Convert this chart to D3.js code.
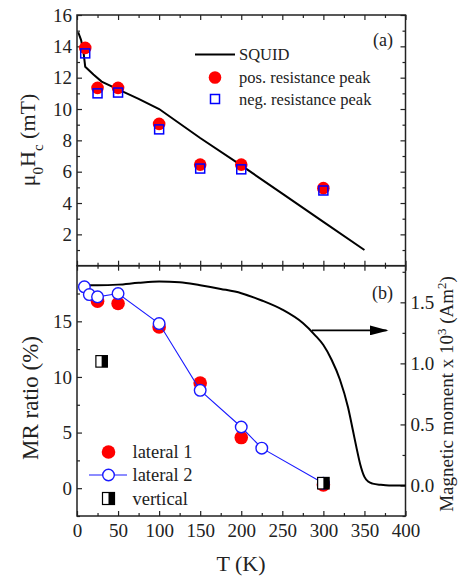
<!DOCTYPE html>
<html>
<head>
<meta charset="utf-8">
<script src="https://cdn.jsdelivr.net/npm/d3@7"></script>
<style>
  body { margin: 0; background: #fff; }
</style>
</head>
<body>
<svg id="chart" width="463" height="576"></svg>
<script>
// panel (a): critical field
const squidT = [1.5, 5, 8, 10, 20, 30, 50, 75, 100, 150, 200, 250, 300, 350];
const squidH = [14.9, 14.4, 13.6, 12.7, 12.2, 11.75, 11.25, 10.65, 10.0, 8.15, 6.4, 4.6, 2.8, 1.0];
const peakT = [10, 25, 50, 100, 150, 200, 300];
const posPeak = [13.9, 11.35, 11.35, 9.05, 6.45, 6.45, 4.95];
const negPeak = [13.55, 11.0, 11.05, 8.7, 6.2, 6.15, 4.8];

// panel (b): MR ratio and magnetic moment
const lat1T = [25, 50, 100, 150, 200, 300];
const lat1MR = [16.8, 16.6, 14.5, 9.45, 4.55, 0.3];
const lat2T = [9, 15, 25, 50, 100, 150, 200, 225, 300];
const lat2MR = [18.1, 17.4, 17.2, 17.5, 14.8, 8.8, 5.5, 3.6, 0.45];
const vertT = [30, 300];
const vertMR = [11.4, 0.45];
const momentT = [2, 10, 25, 50, 75, 100, 125, 150, 175, 200, 225, 250, 275, 290, 300, 310, 320, 330, 336, 340, 345, 350, 355, 360, 370, 380, 400];
const moment = [1.64, 1.64, 1.64, 1.645, 1.66, 1.67, 1.665, 1.64, 1.61, 1.575, 1.515, 1.44, 1.33, 1.23, 1.15, 1.03, 0.87, 0.64, 0.45, 0.32, 0.17, 0.07, 0.03, 0.015, 0.005, 0, 0];
const arrowT = [286, 377];
const arrowM = 1.27;

// ticks
const xTicks = [0, 50, 100, 150, 200, 250, 300, 350, 400];
const xMinor = [25, 75, 125, 175, 225, 275, 325, 375];
const hTicks = [2, 4, 6, 8, 10, 12, 14, 16];
const hMinor = [1, 3, 5, 7, 9, 11, 13, 15];
const mrTicks = [0, 5, 10, 15];
const mrMinor = [-2.5, 2.5, 7.5, 12.5, 17.5];
const momTicks = [0, 0.5, 1.0, 1.5];
const momMinor = [-0.25, 0.25, 0.75, 1.25, 1.75];

const FONT = '"Liberation Serif", "Times New Roman", serif';
const INK = '#222';

const svg = d3.select('#chart');
const L = 77, R = 405.5, topA = 15, mid = 265.7, botB = 516;

const x = d3.scaleLinear().domain([0, 400]).range([L, R]);
const yA = d3.scaleLinear().domain([0, 16]).range([mid, topA]);
const yB = d3.scaleLinear().domain([-2.5, 20]).range([botB, mid]);
const yM = d3.scaleLinear().domain([-0.25, 1.8]).range([botB, mid]);

// axes helper: major + minor, ticks pointing inward
function addAxis(gen, scale, major, minor, tx, ty, fmt, showLabels) {
  const g = svg.append('g').attr('transform', `translate(${tx},${ty})`);
  g.call(gen(scale).tickValues(major).tickSizeInner(-5).tickSizeOuter(0)
    .tickPadding(gen === d3.axisBottom ? 8 : 5)
    .tickFormat(showLabels ? fmt : ''));
  const m = svg.append('g').attr('transform', `translate(${tx},${ty})`);
  m.call(gen(scale).tickValues(minor).tickSizeInner(-3).tickSizeOuter(0).tickFormat(''));
  [g, m].forEach(s => {
    s.attr('font-family', null).attr('font-size', null);
    s.select('.domain').remove();
    s.selectAll('line').attr('stroke', INK).attr('stroke-width', 1.2);
    s.selectAll('text').style('font-size', '19px');
  });
}

const fmtInt = d3.format('d');
const fmt1 = d3.format('.1f');

// panel (a) axes
addAxis(d3.axisBottom, x, xTicks, xMinor, 0, mid, fmtInt, false);
addAxis(d3.axisTop, x, xTicks, xMinor, 0, topA, fmtInt, false);
addAxis(d3.axisLeft, yA, hTicks, hMinor, L, 0, fmtInt, true);
addAxis(d3.axisRight, yA, hTicks, hMinor, R, 0, fmtInt, false);
// panel (b) axes
addAxis(d3.axisBottom, x, xTicks, xMinor, 0, botB, fmtInt, true);
addAxis(d3.axisTop, x, xTicks, xMinor, 0, mid, fmtInt, false);
addAxis(d3.axisLeft, yB, mrTicks, mrMinor, L, 0, fmtInt, true);
addAxis(d3.axisRight, yM, momTicks, momMinor, R, 0, fmt1, true);

// frames
[[topA, mid], [mid, botB]].forEach(([t, b]) => {
  svg.append('rect').attr('x', L).attr('y', t).attr('width', R - L).attr('height', b - t)
    .attr('fill', 'none').attr('stroke', INK).attr('stroke-width', 1.5);
});

// ---- panel (a) marks ----
const lineA = d3.line().x(d => x(d[0])).y(d => yA(d[1]));
svg.append('path').datum(d3.zip(squidT, squidH)).attr('d', lineA)
  .attr('fill', 'none').attr('stroke', '#000').attr('stroke-width', 2);

svg.append('g').selectAll('circle').data(d3.zip(peakT, posPeak)).join('circle')
  .attr('cx', d => x(d[0])).attr('cy', d => yA(d[1])).attr('r', 6.3).attr('fill', '#ff0000');
svg.append('g').selectAll('rect').data(d3.zip(peakT, negPeak)).join('rect')
  .attr('x', d => x(d[0]) - 4.5).attr('y', d => yA(d[1]) - 4.5)
  .attr('width', 9).attr('height', 9)
  .attr('fill', 'none').attr('stroke', '#0000ff').attr('stroke-width', 1.5);

// legend (a)
svg.append('line').attr('x1', 195).attr('x2', 235).attr('y1', 54.5).attr('y2', 54.5)
  .attr('stroke', '#000').attr('stroke-width', 2);
svg.append('circle').attr('cx', 215).attr('cy', 77.5).attr('r', 6.3).attr('fill', '#ff0000');
svg.append('rect').attr('x', 210.5).attr('y', 94.5).attr('width', 9).attr('height', 9)
  .attr('fill', 'none').attr('stroke', '#0000ff').attr('stroke-width', 1.5);
[['SQUID', 54.5], ['pos. resistance peak', 77.5], ['neg. resistance peak', 99]].forEach(([t, y]) => {
  svg.append('text').attr('x', 239).attr('y', y).attr('dy', '0.35em')
    .style('font-size', '16.5px').text(t);
});
svg.append('text').attr('x', 393).attr('y', 40).attr('dy', '0.35em').attr('text-anchor', 'end')
  .style('font-size', '18px').text('(a)');

// ---- panel (b) marks ----
const lineM = d3.line().x(d => x(d[0])).y(d => yM(d[1])).curve(d3.curveMonotoneX);
svg.append('path').datum(d3.zip(momentT, moment)).attr('d', lineM)
  .attr('fill', 'none').attr('stroke', '#000').attr('stroke-width', 2);

svg.append('g').selectAll('circle').data(d3.zip(lat1T, lat1MR)).join('circle')
  .attr('cx', d => x(d[0])).attr('cy', d => yB(d[1])).attr('r', 6.8).attr('fill', '#ff0000');

const lineB = d3.line().x(d => x(d[0])).y(d => yB(d[1]));
svg.append('path').datum(d3.zip(lat2T, lat2MR)).attr('d', lineB)
  .attr('fill', 'none').attr('stroke', '#1a1aff').attr('stroke-width', 1.1);
svg.append('g').selectAll('circle').data(d3.zip(lat2T, lat2MR)).join('circle')
  .attr('cx', d => x(d[0])).attr('cy', d => yB(d[1])).attr('r', 5.8)
  .attr('fill', '#fff').attr('stroke', '#1a1aff').attr('stroke-width', 1.4);

function halfSquare(g, cx, cy, s) {
  g.append('rect').attr('x', cx - s / 2).attr('y', cy - s / 2).attr('width', s / 2).attr('height', s)
    .attr('fill', '#fff');
  g.append('rect').attr('x', cx).attr('y', cy - s / 2).attr('width', s / 2).attr('height', s)
    .attr('fill', '#000');
  g.append('rect').attr('x', cx - s / 2).attr('y', cy - s / 2).attr('width', s).attr('height', s)
    .attr('fill', 'none').attr('stroke', '#000').attr('stroke-width', 1.2);
}
const vg = svg.append('g');
d3.zip(vertT, vertMR).forEach(d => halfSquare(vg, x(d[0]), yB(d[1]), 11.5));

// arrow pointing to right axis
svg.append('defs').append('marker').attr('id', 'ah').attr('viewBox', '0 0 10 10')
  .attr('refX', 9).attr('refY', 5).attr('markerWidth', 19).attr('markerHeight', 10)
  .attr('markerUnits', 'userSpaceOnUse').attr('orient', 'auto')
  .attr('preserveAspectRatio', 'none')
  .append('path').attr('d', 'M0,0L10,5L0,10Z').attr('fill', '#000');
svg.append('line').attr('x1', x(arrowT[0])).attr('x2', x(arrowT[1]))
  .attr('y1', yM(arrowM)).attr('y2', yM(arrowM))
  .attr('stroke', '#000').attr('stroke-width', 1.8).attr('marker-end', 'url(#ah)');

// legend (b)
svg.append('circle').attr('cx', 108.5).attr('cy', 452).attr('r', 6.8).attr('fill', '#ff0000');
svg.append('line').attr('x1', 89).attr('x2', 127).attr('y1', 475).attr('y2', 475)
  .attr('stroke', '#1a1aff').attr('stroke-width', 1.1);
svg.append('circle').attr('cx', 108.5).attr('cy', 475).attr('r', 5.8)
  .attr('fill', '#fff').attr('stroke', '#1a1aff').attr('stroke-width', 1.4);
halfSquare(svg.append('g'), 108.5, 498.5, 12);
[['lateral 1', 452], ['lateral 2', 475], ['vertical', 498.5]].forEach(([t, y]) => {
  svg.append('text').attr('x', 132.5).attr('y', y).attr('dy', '0.35em')
    .style('font-size', '18.5px').text(t);
});
svg.append('text').attr('x', 393).attr('y', 292.5).attr('dy', '0.35em').attr('text-anchor', 'end')
  .style('font-size', '18px').text('(b)');

// axis titles
svg.append('text').attr('x', 241).attr('y', 563).attr('dy', '0.35em').attr('text-anchor', 'middle')
  .style('font-size', '22px').text('T (K)');

const tA = svg.append('text').attr('transform', 'translate(35,140) rotate(-90)')
  .attr('text-anchor', 'middle').style('font-size', '22px');
tA.append('tspan').text('μ');
tA.append('tspan').attr('baseline-shift', 'sub').style('font-size', '15px').text('0');
tA.append('tspan').text('H');
tA.append('tspan').attr('baseline-shift', 'sub').style('font-size', '15px').text('c');
tA.append('tspan').text(' (mT)');

svg.append('text').attr('transform', 'translate(38,398) rotate(-90)')
  .attr('text-anchor', 'middle').style('font-size', '23px').text('MR ratio (%)');

const tM = svg.append('text').attr('transform', 'translate(453,394) rotate(-90)')
  .attr('text-anchor', 'middle').style('font-size', '19px');
tM.append('tspan').text('Magnetic moment x 10');
tM.append('tspan').attr('baseline-shift', 'super').style('font-size', '13px').text('3');
tM.append('tspan').text(' (Am');
tM.append('tspan').attr('baseline-shift', 'super').style('font-size', '13px').text('2');
tM.append('tspan').text(')');

// apply serif face and ink to every text
svg.selectAll('text').style('font-family', FONT).style('fill', INK);
</script>
</body>
</html>
